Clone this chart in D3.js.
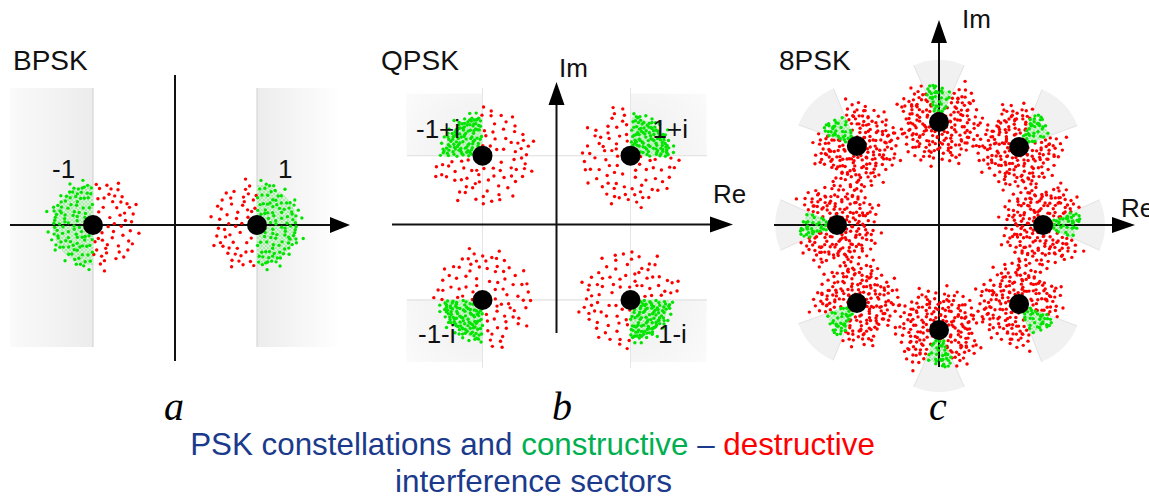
<!DOCTYPE html>
<html><head><meta charset="utf-8">
<script src="https://cdn.jsdelivr.net/npm/d3@7"></script>
<style>html,body{margin:0;padding:0;background:#fff;} svg{display:block;}</style>
</head><body><svg id="c" width="1149" height="497"></svg>
<script>
// ---------------- DATA ----------------
const panelTitles = ["BPSK", "QPSK", "8PSK"];
const panelLetters = ["a", "b", "c"];
const bpskPoints = [[-1, 0], [1, 0]];
const bpskLabels = ["-1", "1"];
const qpskPoints = [[1, 0.93], [-1, 0.93], [-1, -1.02], [1, -1.02]];
const qpskLabels = ["1+i", "-1+i", "-1-i", "1-i"];
const psk8Points = [[1.0, 0], [0.77, 0.75], [0, 0.99], [-0.79, 0.76], [-0.98, 0], [-0.79, -0.75], [0, -1.01], [0.77, -0.76]];
const axisLabels = ["Re", "Im"];
const captionSegments = ["PSK constellations and ", "constructive", " – ", "destructive"];
const captionLine2 = "interference sectors";
// hand-read scatter of received samples around a symbol (unit-disc offsets)
const noiseOffsets = [
  [0.62,-0.11],[-0.35,0.48],[0.08,0.83],[-0.77,-0.29],[0.41,0.57],[-0.12,-0.64],[0.88,0.27],[-0.53,-0.71],[0.25,-0.38],[-0.91,0.14],
  [0.47,-0.79],[-0.22,0.19],[0.71,0.62],[-0.64,0.66],[0.13,-0.92],[-0.41,-0.18],[0.95,-0.24],[-0.05,0.41],[0.33,0.12],[-0.83,-0.52],
  [0.56,0.33],[-0.28,0.87],[0.19,-0.55],[-0.69,0.03],[0.82,-0.51],[-0.16,-0.89],[0.38,0.94],[-0.47,0.31],[0.67,-0.31],[-0.94,-0.08],
  [0.02,-0.28],[-0.58,-0.42],[0.76,0.09],[-0.33,0.68],[0.29,-0.71],[-0.87,0.39],[0.52,0.76],[-0.09,0.61],[0.91,0.45],[-0.71,-0.69],
  [0.17,0.29],[-0.44,-0.88],[0.63,-0.66],[-0.25,-0.43],[0.85,-0.05],[-0.62,0.51],[0.06,-0.76],[-0.98,-0.27],[0.44,0.21],[-0.18,0.95],
  [0.73,-0.82],[-0.37,0.04],[0.21,0.68],[-0.79,-0.11],[0.58,-0.48],[-0.03,0.17],[0.36,-0.21],[-0.56,0.82],[0.97,0.12],[-0.27,-0.66],
  [0.12,0.49],[-0.85,0.61],[0.69,0.41],[-0.48,-0.57],[0.31,-0.95],[-0.13,0.33],[0.81,-0.67],[-0.66,-0.24],[0.48,0.05],[-0.31,0.57],
  [0.05,-0.47],[-0.73,0.25],[0.59,0.89],[-0.08,-0.99],[0.9,-0.38],[-0.52,-0.03],[0.26,0.41],[-0.39,-0.75],[0.77,0.53],[-0.96,0.46],
  [0.15,-0.17],[-0.21,0.76],[0.54,-0.87],[-0.61,-0.86],[0.4,0.69],[-0.89,-0.43],[0.7,-0.16],[-0.14,-0.32],[0.27,0.9],[-0.5,0.16],
  [0.86,0.71],[-0.34,-0.97],[0.1,0.07],[-0.75,0.78],[0.64,-0.58],[-0.02,0.72],[0.35,-0.44],[-0.68,-0.56],[0.99,-0.09],[-0.23,0.37],
  [1.1,0.35],[-1.05,-0.5],[0.45,1.06],[-0.62,-1.02],[1.03,-0.66],[-0.28,1.12],[0.1,-1.1],[-1.12,0.2]
];

// ---------------- LAYOUT / STYLE ----------------
const svg = d3.select("#c");
const FONT = "'Liberation Sans', Arial, sans-serif";
const defs = svg.append("defs");
const pat = defs.append("pattern").attr("id","chk").attr("patternUnits","userSpaceOnUse")
  .attr("width",4).attr("height",4);
pat.append("rect").attr("width",4).attr("height",4).attr("fill","#d2f5d2");
pat.append("rect").attr("width",2).attr("height",2).attr("fill","#a6e8a6");
pat.append("rect").attr("x",2).attr("y",2).attr("width",2).attr("height",2).attr("fill","#a6e8a6");

const panels = [
  {points: bpskPoints, labels: bpskLabels, cx: 175, cy: 225, unit: 82, half: Math.PI/2,
   greenSpread: 0.48, redSpread: 0.5, greenStride: 1, sectorR: 0.49, redLayers: [[1, 0]],
   hx: [10, 350], vy: [361, 75], arrow: 20,
   labelOff: [[-41, -47], [21, -47]], title: [13, 70], letter: [174, 420]},
  {points: qpskPoints, labels: qpskLabels, cx: 556.5, cy: 224.5, unit: 74, half: Math.PI/4,
   greenSpread: 0.5, redSpread: 0.6, greenStride: 1, sectorR: 0.52, redLayers: [[1, 0]],
   hx: [392, 733], vy: [333, 82], arrow: 23,
   labelOff: [[22, -18], [-66.5, -18], [-64.5, 43], [27.5, 43]], title: [381, 70], letter: [562, 420],
   re: [713, 203], im: [559, 77]},
  {points: psk8Points, labels: null, cx: 939, cy: 225, unit: 104, half: 25*Math.PI/180,
   greenSpread: 0.31, redSpread: 0.38, greenStride: 3, sectorR: 0.31, redLayers: [[1, 0], [0.78, 1.7]],
   hx: [774, 1135], vy: [367, 20], arrow: 23,
   title: [779, 70], letter: [938, 420], re: [1121, 217], im: [962, 28]}
];

function rot(o, a) {
  return [o[0] * Math.cos(a) - o[1] * Math.sin(a), o[0] * Math.sin(a) + o[1] * Math.cos(a)];
}

panels.forEach((p, pi) => {
  const sx = d3.scaleLinear().domain([-1, 1]).range([p.cx - p.unit, p.cx + p.unit]);
  const sy = d3.scaleLinear().domain([-1, 1]).range([p.cy + p.unit, p.cy - p.unit]);
  const px = u => sx(u) - sx(0);
  const g = svg.append("g");
  const bg = g.append("g"), grid = g.append("g"), sect = g.append("g"), ax = g.append("g"),
        red = g.append("g"), grn = g.append("g"), dots = g.append("g"), txt = g.append("g");

  // ---- gray decision regions ----
  if (pi === 0) {
    const lg1 = defs.append("linearGradient").attr("id","bl").attr("x1",0).attr("x2",1);
    lg1.append("stop").attr("offset",0).attr("stop-color","#fafafa");
    lg1.append("stop").attr("offset",1).attr("stop-color","#ececec");
    const lg2 = defs.append("linearGradient").attr("id","br").attr("x1",0).attr("x2",1);
    lg2.append("stop").attr("offset",0).attr("stop-color","#ececec");
    lg2.append("stop").attr("offset",1).attr("stop-color","#ffffff");
    p.points.forEach(d => {
      const x0 = sx(d[0]);
      const w = 83;
      bg.append("rect").attr("x", d[0] < 0 ? x0 - w : x0).attr("y", 88).attr("width", w).attr("height", 259)
        .attr("fill", d[0] < 0 ? "url(#bl)" : "url(#br)");
      bg.append("line").attr("x1", x0).attr("x2", x0).attr("y1", 88).attr("y2", 347)
        .attr("stroke", "#cfcfcf").attr("stroke-width", 1);
    });
  } else if (pi === 1) {
    p.points.forEach((d, i) => {
      const x0 = sx(d[0]), y0 = sy(d[1]);
      const sxg = Math.sign(d[0]), syg = -Math.sign(d[1]);
      const gid = "qg" + i;
      const rg = defs.append("radialGradient").attr("id", gid).attr("gradientUnits","userSpaceOnUse")
        .attr("cx", x0).attr("cy", y0).attr("r", 100);
      rg.append("stop").attr("offset",0).attr("stop-color","#ededed");
      rg.append("stop").attr("offset",1).attr("stop-color","#fbfbfb");
      bg.append("rect").attr("x", sxg > 0 ? x0 : x0 - 76).attr("y", syg > 0 ? y0 : y0 - 62)
        .attr("width", 76).attr("height", 62).attr("fill", "url(#"+gid+")");
      grid.append("line").attr("x1", x0).attr("x2", x0).attr("y1", 88).attr("y2", 368)
        .attr("stroke", "#e5e5e5").attr("stroke-width", 1);
      grid.append("line").attr("y1", y0).attr("y2", y0).attr("x1", 407).attr("x2", 707)
        .attr("stroke", "#e5e5e5").attr("stroke-width", 1);
    });
  } else {
    p.points.forEach((d, i) => {
      const x0 = sx(d[0]), y0 = sy(d[1]);
      const th = Math.atan2(d[1], d[0]);
      const gid = "wg" + i;
      const R = 62;
      const rg = defs.append("radialGradient").attr("id", gid).attr("gradientUnits","userSpaceOnUse")
        .attr("cx", x0).attr("cy", y0).attr("r", R);
      rg.append("stop").attr("offset",0).attr("stop-color","#ffffff");
      rg.append("stop").attr("offset",0.5).attr("stop-color","#fafafa");
      rg.append("stop").attr("offset",1).attr("stop-color","#f1f1f1");
      const h = 24 * Math.PI / 180;
      const arc = d3.arc().innerRadius(0).outerRadius(R)
        .startAngle(Math.PI/2 - th - h).endAngle(Math.PI/2 - th + h);
      bg.append("path").attr("d", arc()).attr("transform", `translate(${x0},${y0})`)
        .attr("fill", "url(#"+gid+")");
      [th - h, th + h].forEach(a => {
        bg.append("line").attr("x1", x0).attr("y1", y0)
          .attr("x2", x0 + R * Math.cos(a)).attr("y2", y0 - R * Math.sin(a))
          .attr("stroke", "#e2e2e2").attr("stroke-width", 1);
      });
    });
  }

  // ---- constructive sectors (green checker) ----
  p.points.forEach(d => {
    const th = Math.atan2(d[1], d[0]);
    const arc = d3.arc().innerRadius(0).outerRadius(px(p.sectorR))
      .startAngle(Math.PI/2 - th - p.half).endAngle(Math.PI/2 - th + p.half);
    sect.append("path").attr("d", arc()).attr("transform", `translate(${sx(d[0])},${sy(d[1])})`)
      .attr("fill", "url(#chk)").attr("opacity", 0.9);
  });

  // ---- axes ----
  const ay = sy(0), axx = sx(0), L = p.arrow, hw = 8;
  ax.append("line").attr("x1", p.hx[0]).attr("x2", p.hx[1] - L + 2).attr("y1", ay).attr("y2", ay)
    .attr("stroke", "#111").attr("stroke-width", 2);
  ax.append("path").attr("d", `M${p.hx[1]},${ay} L${p.hx[1]-L},${ay-hw} L${p.hx[1]-L},${ay+hw} Z`).attr("fill", "#000");
  if (pi === 0) {
    ax.append("line").attr("x1", axx).attr("x2", axx).attr("y1", p.vy[0]).attr("y2", p.vy[1])
      .attr("stroke", "#111").attr("stroke-width", 2);
  } else {
    ax.append("line").attr("x1", axx).attr("x2", axx).attr("y1", p.vy[0]).attr("y2", p.vy[1] + L - 2)
      .attr("stroke", "#111").attr("stroke-width", 2);
    ax.append("path").attr("d", `M${axx},${p.vy[1]} L${axx-hw},${p.vy[1]+L} L${axx+hw},${p.vy[1]+L} Z`).attr("fill", "#000");
    txt.append("text").attr("x", p.re[0]).attr("y", p.re[1]).text(axisLabels[0]);
    txt.append("text").attr("x", p.im[0]).attr("y", p.im[1]).text(axisLabels[1]);
  }

  // ---- received samples ----
  p.points.forEach(d => {
    const th = Math.atan2(d[1], d[0]);
    p.redLayers.forEach(([sc, extraRot]) => {
      noiseOffsets.forEach(o => {
        const oo = rot(o, extraRot);
        const ang = Math.atan2(oo[1], oo[0]);
        if (Math.abs(ang) <= p.half && Math.hypot(oo[0], oo[1]) * sc > 0.25) return; // in constructive sector
        if (Math.abs(ang) <= p.half && p.half > 1) return;
        const m = rot(oo, th);
        red.append("circle").attr("cx", sx(d[0] + m[0] * p.redSpread * sc)).attr("cy", sy(d[1] + m[1] * p.redSpread * sc))
          .attr("r", 1.7).attr("fill", "#ff0000");
      });
    });
    noiseOffsets.forEach((o, k) => {
      if (k % p.greenStride !== 0) return;
      const r = Math.hypot(o[0], o[1]), phi = Math.atan2(o[1], o[0]);
      const a = th + phi * (p.half / Math.PI);
      grn.append("circle").attr("cx", sx(d[0] + r * p.greenSpread * Math.cos(a)))
        .attr("cy", sy(d[1] + r * p.greenSpread * Math.sin(a)))
        .attr("r", 1.7).attr("fill", "#00e400");
    });
    dots.append("circle").attr("cx", sx(d[0])).attr("cy", sy(d[1])).attr("r", 10).attr("fill", "#000");
  });

  // ---- labels ----
  if (p.labels) p.labels.forEach((t, i) => {
    const d = p.points[i];
    txt.append("text").attr("x", sx(d[0]) + p.labelOff[i][0]).attr("y", sy(d[1]) + p.labelOff[i][1]).text(t);
  });
  txt.selectAll("text").attr("font-family", FONT).attr("font-size", 26).attr("fill", "#111");
  txt.append("text").attr("x", p.title[0]).attr("y", p.title[1]).text(panelTitles[pi])
    .attr("font-family", FONT).attr("font-size", 28).attr("fill", "#111");
  g.append("text").attr("x", p.letter[0]).attr("y", p.letter[1]).attr("text-anchor", "middle")
    .attr("font-family", "'Liberation Serif', 'Times New Roman', serif").attr("font-style", "italic")
    .attr("font-size", 40).attr("fill", "#000").text(panelLetters[pi]);
});

// ---- caption ----
const capColors = ["#1b3a8c", "#00b050", "#1b3a8c", "#ff0000"];
const cap1 = svg.append("text").attr("x", 532.5).attr("y", 455).attr("text-anchor", "middle")
  .attr("font-family", FONT).attr("font-size", 30);
captionSegments.forEach((s, i) => cap1.append("tspan").attr("fill", capColors[i]).text(s));
const cap2 = svg.append("text").attr("x", 533.5).attr("y", 492).attr("text-anchor", "middle")
  .attr("font-family", FONT).attr("font-size", 30).attr("fill", "#1b3a8c").text(captionLine2);
const w1 = cap1.node().getComputedTextLength();
cap1.attr("font-size", 30 * 685 / w1);
const w2 = cap2.node().getComputedTextLength();
cap2.attr("font-size", 30 * 277 / w2);
</script>
</body></html>
